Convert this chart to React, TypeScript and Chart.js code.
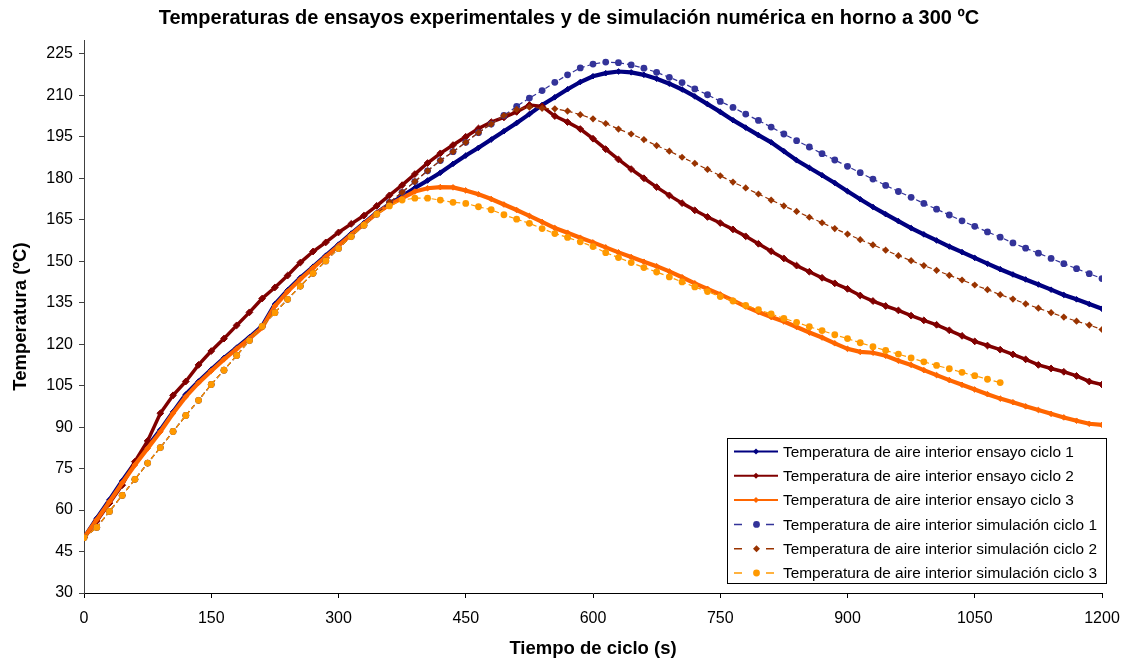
import React, { useEffect, useRef } from "react";
import { Chart, registerables } from "chart.js";

Chart.register(...registerables);

const TITLE = "Temperaturas de ensayos experimentales y de simulación numérica en horno a 300 ºC";
const X_TITLE = "Tiempo de ciclo (s)";
const Y_TITLE = "Temperatura (ºC)";

const X_TICKS = [0, 150, 300, 450, 600, 750, 900, 1050, 1200];
const Y_TICKS = [30, 45, 60, 75, 90, 105, 120, 135, 150, 165, 180, 195, 210, 225];

const SERIES_NAMES = [
  "Temperatura de aire interior ensayo ciclo 1",
  "Temperatura de aire interior ensayo ciclo 2",
  "Temperatura de aire interior ensayo ciclo 3",
  "Temperatura de aire interior simulación ciclo 1",
  "Temperatura de aire interior simulación ciclo 2",
  "Temperatura de aire interior simulación ciclo 3",
];

const COLORS = ["#000080", "#800000", "#FF6600", "#333399", "#993300", "#FF9900"];

const TIME_S = [
  0, 15, 30, 45, 60, 75, 90, 105, 120, 135,
  150, 165, 180, 195, 210, 225, 240, 255, 270, 285,
  300, 315, 330, 345, 360, 375, 390, 405, 420, 435,
  450, 465, 480, 495, 510, 525, 540, 555, 570, 585,
  600, 615, 630, 645, 660, 675, 690, 705, 720, 735,
  750, 765, 780, 795, 810, 825, 840, 855, 870, 885,
  900, 915, 930, 945, 960, 975, 990, 1005, 1020, 1035,
  1050, 1065, 1080, 1095, 1110, 1125, 1140, 1155, 1170, 1185,
  1200,
];

const EXP_1 = [
  50, 57, 63.7, 70.5, 77, 83, 89, 95.5, 101.8, 106.5,
  110.8, 115, 118.7, 122.5, 126.5, 134.4, 139.5, 144, 148, 152,
  156, 160, 163.8, 167.5, 170.6, 173.5, 176.5, 179.2, 182, 185.2,
  188.2, 191, 194, 197, 200, 203.2, 206.5, 209.3, 212.2, 214.8,
  216.9, 218, 218.6, 218.3, 217.4, 216, 214.2, 212.1, 209.6, 206.8,
  204, 201, 198.3, 195.6, 193, 189.8, 186.5, 183.8, 181.1, 178.3,
  175.3, 172.4, 169.6, 167, 164.5, 162, 159.7, 157.5, 155.3, 153.3,
  151.2, 149.1, 147.1, 145.2, 143.4, 141.6, 139.7, 137.8, 136.2, 134.5,
  132.8,
];

const EXP_2 = [
  50, 56, 62.5, 69, 77.5, 85, 95, 101.5, 106.5, 112.5,
  117.5, 122, 126.8, 131.5, 136.5, 140.5, 144.8, 149.5, 153.5, 156.8,
  160.4, 163.5, 166.5, 170, 173.8, 177.5, 181.5, 185.5, 189, 192,
  195, 198, 200.3, 202, 204, 206.5, 206, 202.5, 200.3, 197.8,
  194.3, 190.5, 186.8, 183.3, 180, 176.8, 173.8, 171, 168.4, 166,
  163.8, 161.5, 159, 156.3, 153.6, 151, 148.4, 146.2, 144, 142,
  140, 137.6, 135.6, 133.8, 132.2, 130.3, 128.6, 127, 125, 123,
  121, 119.5, 118, 116.3, 114.5, 112.5, 111.2, 110, 108.5, 106.5,
  105.4,
];

const EXP_3 = [
  50, 56.5, 63, 69.8, 76.3, 82.3, 88.3, 95, 101, 106,
  110.3, 114.5, 118.3, 122, 126, 133.8, 139, 143.5, 147.6, 151.6,
  155.6, 159.6, 163.5, 167.3, 170.4, 172.8, 175.2, 176.4, 176.8, 176.7,
  175.6, 174.2, 172.5, 170.5, 168.5, 166.4, 164.2, 162, 160.3, 158.5,
  156.8, 155, 153.2, 151.5, 149.8, 148.2, 146.3, 144.2, 142, 140,
  138, 135.8, 133.6, 131.6, 129.8, 128.2, 126.2, 124.2, 122.4, 120.3,
  118.3, 117.2, 116.9, 115.8, 114, 112.5, 110.6, 108.8, 107, 105.3,
  103.6, 101.9, 100.3, 99, 97.5, 96.2, 94.8, 93.5, 92.3, 91.2,
  90.8,
];

const SIM_1 = [
  50, 53.7, 59.5, 65.3, 71.1, 77, 82.6, 88.4, 94.2, 99.7,
  105.4, 110.6, 115.9, 121.3, 126.4, 131.4, 136.2, 141, 145.6, 150.1,
  154.6, 158.9, 163, 167, 171.3, 174.9, 178.8, 182.7, 186.4, 189.6,
  193, 196.5, 199.6, 202.7, 206, 209, 211.7, 214.7, 217.4, 219.9,
  221.3, 222, 221.8, 221, 219.8, 218.3, 216.5, 214.6, 212.3, 210.2,
  207.8, 205.6, 203.2, 200.9, 198.5, 196, 193.6, 191.3, 188.9, 186.6,
  184.3, 182, 179.7, 177.4, 175.2, 173.1, 170.9, 168.8, 166.7, 164.6,
  162.6, 160.6, 158.7, 156.6, 154.7, 152.9, 151, 149.1, 147.3, 145.5,
  143.7,
];

const SIM_2 = [
  50, 53.7, 59.5, 65.3, 71.1, 77, 82.6, 88.4, 94.2, 99.7,
  105.4, 110.6, 115.9, 121.3, 126.4, 131.4, 136.2, 141, 145.6, 150.1,
  154.6, 158.9, 163, 167, 171.3, 174.9, 178.8, 182.7, 186.4, 189.6,
  193, 196.5, 199.6, 202.7, 204.9, 205.7, 205.3, 205.1, 204.3, 203,
  201.5, 199.8, 197.8, 196, 194, 191.8, 189.8, 187.6, 185.4, 183.2,
  180.9, 178.6, 176.5, 174.3, 172.1, 170, 168, 165.9, 163.9, 161.8,
  159.8, 157.8, 155.9, 154, 152, 150.2, 148.4, 146.7, 144.9, 143.2,
  141.4, 139.7, 137.9, 136.3, 134.6, 133, 131.4, 129.8, 128.3, 126.9,
  125.3,
];

const SIM_3 = [
  50, 53.7, 59.5, 65.3, 71.1, 77, 82.6, 88.4, 94.2, 99.7,
  105.4, 110.6, 115.9, 121.3, 126.4, 131.4, 136.2, 141, 145.6, 150.1,
  154.6, 158.9, 163, 167, 170, 172.1, 172.8, 172.8, 172.1, 171.3,
  170.9, 169.7, 168.6, 166.8, 165.2, 163.7, 161.8, 160, 158.6, 157,
  155.3, 153.1, 151.3, 149.5, 147.7, 146.1, 144.3, 142.5, 140.7, 139,
  137.2, 135.6, 134, 132.5, 130.9, 129.3, 127.9, 126.3, 124.9, 123.4,
  122, 120.5, 119.1, 117.7, 116.4, 115, 113.6, 112.3, 111.1, 109.8,
  108.6, 107.3, 106.1,
];

const FONT = "Arial, 'Liberation Sans', Helvetica, sans-serif";

const overlayPlugin = {
  id: "overlay",
  afterDraw(chart: any) {
    const c = chart.ctx as CanvasRenderingContext2D;
    c.save();
    c.fillStyle = "#000";
    c.font = `bold 20px ${FONT}`;
    c.textAlign = "center";
    c.textBaseline = "alphabetic";
    c.fillText(TITLE, 569, 23.5);

    const LX = 727.5, LY = 438.5, LW = 379, LH = 145;
    c.fillStyle = "#fff";
    c.fillRect(LX, LY, LW, LH);
    c.strokeStyle = "#000";
    c.lineWidth = 1;
    c.strokeRect(LX, LY, LW, LH);

    c.font = `15.4px ${FONT}`;
    c.textAlign = "left";
    for (let i = 0; i < SERIES_NAMES.length; i++) {
      const y = 451.5 + i * 24.3;
      const col = COLORS[i];
      c.strokeStyle = col;
      c.fillStyle = col;
      if (i < 3) {
        c.lineWidth = 2;
        c.setLineDash([]);
        c.beginPath();
        c.moveTo(734, y);
        c.lineTo(778, y);
        c.stroke();
        c.beginPath();
        c.moveTo(756, y - 3);
        c.lineTo(759, y);
        c.lineTo(756, y + 3);
        c.lineTo(753, y);
        c.closePath();
        c.fill();
      } else {
        c.lineWidth = 1.5;
        c.beginPath();
        c.moveTo(734, y);
        c.lineTo(742, y);
        c.moveTo(766, y);
        c.lineTo(774, y);
        c.stroke();
        c.beginPath();
        if (i === 4) {
          c.moveTo(756.5, y - 3.5);
          c.lineTo(760, y);
          c.lineTo(756.5, y + 3.5);
          c.lineTo(753, y);
          c.closePath();
        } else {
          c.arc(756.5, y, 3.4, 0, Math.PI * 2);
        }
        c.fill();
      }
      c.fillStyle = "#000";
      c.fillText(SERIES_NAMES[i], 783, y + 5.3);
    }
    c.restore();
  },
};

export default function App() {
  const ref = useRef<HTMLCanvasElement>(null);

  useEffect(() => {
    document.body.style.margin = "0";
    const canvas = ref.current;
    if (!canvas) return;
    Chart.defaults.font.family = FONT;
    Chart.defaults.color = "#000";

    const pts = (vals: number[]) => vals.map((v, i) => ({ x: TIME_S[i], y: v }));
    const seriesValues = [EXP_1, EXP_2, EXP_3, SIM_1, SIM_2, SIM_3];

    const datasets = seriesValues.map((vals, i) => {
      const isExp = i < 3;
      const col = COLORS[i];
      return {
        label: SERIES_NAMES[i],
        data: pts(vals),
        order: 6 - i,
        borderColor: col,
        backgroundColor: col,
        borderWidth: isExp ? (i === 1 ? 3.5 : 4.2) : 1.2,
        borderDash: isExp ? [] : [5, 3],
        pointStyle: isExp || i === 4 ? "rectRot" : "circle",
        pointRadius: isExp ? (i === 1 ? 3.4 : 2.8) : i === 4 ? 3.6 : 3.4,
        pointBorderWidth: isExp ? 1 : 0,
        pointBackgroundColor: col,
        pointBorderColor: col,
        tension: 0,
        fill: false,
      };
    });

    const chart = new Chart(canvas, {
      type: "line",
      data: { datasets } as any,
      options: {
        responsive: false,
        animation: false,
        events: [],
        layout: { padding: { left: 0, right: 23, top: 40, bottom: 0 } },
        plugins: {
          legend: { display: false },
          title: { display: false },
          tooltip: { enabled: false },
        },
        scales: {
          x: {
            type: "linear",
            min: 0,
            max: 1200,
            afterBuildTicks: (s: any) => {
              s.ticks = X_TICKS.map((v) => ({ value: v }));
            },
            afterFit: (s: any) => {
              s.height = 68;
              s.paddingLeft = 0;
              s.paddingRight = 0;
            },
            grid: { display: true, drawOnChartArea: false, drawTicks: true, tickLength: 5, color: "#000" },
            border: { display: true, color: "#000", width: 1 },
            ticks: {
              color: "#000",
              font: { size: 16 },
              padding: 11,
              maxRotation: 0,
              autoSkip: false,
              callback: (v: any) => String(v),
            },
            title: {
              display: true,
              text: X_TITLE,
              color: "#000",
              font: { size: 18.5, weight: "bold" },
              padding: { top: 0, bottom: 1 },
            },
          },
          y: {
            type: "linear",
            min: 30,
            max: 230,
            afterBuildTicks: (s: any) => {
              s.ticks = Y_TICKS.map((v) => ({ value: v }));
            },
            afterFit: (s: any) => {
              s.width = 84;
              s.paddingTop = 0;
              s.paddingBottom = 0;
            },
            grid: { display: true, drawOnChartArea: false, drawTicks: true, tickLength: 5, color: "#404040" },
            border: { display: true, color: "#404040", width: 1 },
            ticks: {
              color: "#000",
              font: { size: 16 },
              padding: 6,
              autoSkip: false,
              callback: (v: any) => String(v),
            },
            title: {
              display: true,
              text: Y_TITLE,
              color: "#000",
              font: { size: 18.5, weight: "bold" },
              padding: { top: 10, bottom: 0 },
            },
          },
        },
      } as any,
      plugins: [overlayPlugin],
    });

    return () => chart.destroy();
  }, []);

  return <canvas ref={ref} width={1125} height={661} style={{ display: "block" }} />;
}
